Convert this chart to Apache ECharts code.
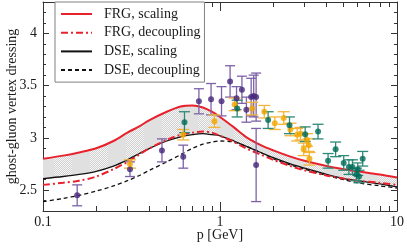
<!DOCTYPE html>
<html><head><meta charset="utf-8">
<script src="https://cdn.jsdelivr.net/npm/echarts@6/dist/echarts.min.js"></script>
<style>html,body{margin:0;padding:0;background:#fff}#c{width:407px;height:248px}</style>
</head><body><div id="c"></div>
<script>
// momentum grid (GeV) shared by all curves
const P = [0.1,0.13,0.16,0.2,0.25,0.3,0.35,0.4,0.5,0.6,0.7,0.8,0.9,1.0,1.2,1.4,1.7,2.0,2.5,3.0,4.0,5.0,6.0,8.0,10];
const FRG_SCALING    = [2.80,2.83,2.86,2.90,2.97,3.05,3.11,3.17,3.25,3.30,3.31,3.29,3.25,3.20,3.10,3.01,2.93,2.88,2.82,2.78,2.73,2.70,2.68,2.65,2.62];
const FRG_DECOUPLING = [2.55,2.57,2.59,2.63,2.70,2.77,2.84,2.90,2.98,3.03,3.05,3.06,3.05,3.02,2.96,2.90,2.84,2.79,2.73,2.69,2.64,2.61,2.59,2.57,2.55];
const DSE_SCALING    = [2.61,2.63,2.65,2.68,2.73,2.79,2.85,2.90,2.97,3.01,3.03,3.04,3.03,3.02,2.97,2.92,2.86,2.81,2.75,2.71,2.65,2.61,2.59,2.56,2.53];
const DSE_DECOUPLING = [2.39,2.42,2.45,2.49,2.54,2.59,2.64,2.69,2.77,2.84,2.90,2.94,2.96,2.97,2.96,2.92,2.86,2.80,2.74,2.70,2.64,2.60,2.57,2.54,2.52];

// lattice data sets: [p, value, error]
const DATA_PURPLE = [[0.156,2.45,0.10],[0.31,2.70,0.07],[0.47,2.88,0.11],[0.62,2.82,0.11],[0.76,3.35,0.12],[0.89,3.37,0.15],[1.02,3.35,0.14],[1.14,3.54,0.15],[1.24,3.38,0.11],[1.33,3.46,0.13],[1.41,3.27,0.12],[1.50,3.39,0.18],[1.55,3.40,0.20],[1.60,3.39,0.23],[1.60,2.74,0.35]];
const DATA_ORANGE = [[0.31,2.75,0.04],[0.62,3.03,0.05],[0.93,3.16,0.06],[1.21,3.32,0.06],[1.52,3.28,0.06],[1.78,3.25,0.06],[2.04,3.14,0.06],[2.29,3.19,0.06],[2.5,3.08,0.06],[2.73,3.03,0.06],[2.85,3.04,0.06],[2.97,2.89,0.06],[3.1,2.98,0.06],[3.17,2.93,0.06],[3.2,2.80,0.06]];
const DATA_TEAL   = [[0.63,3.15,0.10],[1.25,3.28,0.08],[1.87,3.17,0.08],[2.47,3.12,0.08],[3.03,3.035,0.07],[3.58,3.06,0.07],[4.08,2.78,0.07],[4.5,2.89,0.07],[5.0,2.76,0.07],[5.35,2.72,0.07],[5.6,2.72,0.07],[5.9,2.65,0.06],[6.0,2.70,0.06],[6.1,2.63,0.06],[6.4,2.80,0.07]];

const SERIES_NAMES = ['FRG, scaling','FRG, decoupling','DSE, scaling','DSE, decoupling'];
const X_MINOR = [0.2,0.3,0.4,0.5,0.6,0.7,0.8,0.9,2,3,4,5,6,7,8,9];
const Y_MAJOR = [2.5,3,3.5,4];
const Y_MINOR = [2.3,2.4,2.5,2.6,2.7,2.8,2.9,3.0,3.1,3.2,3.3,3.4,3.5,3.6,3.7,3.8,3.9,4.0,4.1,4.2,4.3];

const FONT = "'Liberation Serif','DejaVu Serif',serif";
const AX = '#333';

// hatch pattern
const pat = document.createElement('canvas');
pat.width = 36; pat.height = 4;
(function(){
  const g = pat.getContext('2d');
  g.fillStyle = '#e0e0e0'; g.fillRect(0,0,18,4);
  for (let i = 18; i < 36; i++) for (let j = 0; j < 4; j++) {
    g.fillStyle = ((i + j) % 2) ? '#d0d0d0' : '#f7f7f7';
    g.fillRect(i, j, 1, 1);
  }
})();

function pairs(ys){ return P.map((p,i)=>[p, ys[i]]); }

function errorBars(data, barColor, pointColor, capW){
  return [{
    type:'custom', xAxisIndex:0, yAxisIndex:0, z:5, silent:true,
    data: data.map(d=>[d[0], d[1]-d[2], d[1]+d[2]]),
    encode:{x:0, y:[1,2]},
    renderItem(params, api){
      const x = api.value(0);
      const lo = api.coord([x, api.value(1)]);
      const hi = api.coord([x, api.value(2)]);
      const h = capW/2;
      const st = {stroke: barColor, lineWidth: 1.3};
      return {type:'group', children:[
        {type:'line', shape:{x1:lo[0],y1:lo[1],x2:hi[0],y2:hi[1]}, style:st},
        {type:'line', shape:{x1:lo[0]-h,y1:lo[1],x2:lo[0]+h,y2:lo[1]}, style:st},
        {type:'line', shape:{x1:hi[0]-h,y1:hi[1],x2:hi[0]+h,y2:hi[1]}, style:st}
      ]};
    }
  },{
    type:'scatter', xAxisIndex:0, yAxisIndex:0, z:6, symbolSize:6, silent:true,
    itemStyle:{color: pointColor}, data: data.map(d=>[d[0], d[1]])
  }];
}

const xBase = {min:0.1, max:10, splitLine:{show:false}};
const yBase = {type:'value', min:2.3, max:4.3, splitLine:{show:false}};

const chart = echarts.init(document.getElementById('c'), null, {renderer:'canvas'});
chart.setOption({
  animation:false,
  grid:{left:43, right:10, top:2, bottom:37, outerBoundsMode:'none', containLabel:false},
  legend:{
    data: SERIES_NAMES, orient:'vertical', left:55, top:2,
    itemWidth:31, itemHeight:14, itemGap:4.7, padding:[5,4,5,5],
    backgroundColor:'#fff', borderColor:'#808080', borderWidth:1,
    itemStyle:{opacity:0},
    textStyle:{fontFamily:FONT, fontSize:14, color:'#1a1a1a', padding:[0,0,0,7]}
  },
  xAxis:[
    Object.assign({type:'log', logBase:10, position:'bottom',
      name:'p [GeV]', nameLocation:'middle', nameGap:17, nameMoveOverlap:false,
      nameTextStyle:{fontFamily:FONT, fontSize:14, color:'#1a1a1a'},
      axisLine:{onZero:false, lineStyle:{color:AX}},
      axisTick:{inside:true, length:9, lineStyle:{color:AX}},
      axisLabel:{fontFamily:FONT, fontSize:14, color:'#1a1a1a', margin:4,
        formatter:v=>String(+(+v).toPrecision(3))}}, xBase),
    Object.assign({type:'log', logBase:10, position:'top',
      axisLine:{onZero:false, lineStyle:{color:AX}},
      axisTick:{inside:true, length:9, lineStyle:{color:AX}},
      axisLabel:{show:false}}, xBase),
    {type:'value', min:-1, max:1, position:'bottom', splitLine:{show:false},
      axisLine:{show:false, onZero:false}, axisLabel:{show:false},
      axisTick:{inside:true, length:5, lineStyle:{color:AX}, customValues:X_MINOR.map(v=>Math.log10(v))}},
    {type:'value', min:-1, max:1, position:'top', splitLine:{show:false},
      axisLine:{show:false, onZero:false}, axisLabel:{show:false},
      axisTick:{inside:true, length:5, lineStyle:{color:AX}, customValues:X_MINOR.map(v=>Math.log10(v))}}
  ],
  yAxis:[
    Object.assign({position:'left',
      name:'ghost-gluon vertex dressing', nameLocation:'middle', nameGap:24, nameMoveOverlap:false,
      nameTextStyle:{fontFamily:FONT, fontSize:14, color:'#1a1a1a'},
      axisLine:{show:true, onZero:false, lineStyle:{color:AX}},
      axisTick:{show:true, inside:true, length:6, lineStyle:{color:AX}, customValues:Y_MAJOR},
      axisLabel:{fontFamily:FONT, fontSize:14, color:'#1a1a1a', margin:6, customValues:Y_MAJOR,
        formatter:v=>String(v)}}, yBase),
    Object.assign({position:'left', axisLine:{show:false, onZero:false}, axisLabel:{show:false},
      axisTick:{show:true, inside:true, length:3, lineStyle:{color:AX}, customValues:Y_MINOR}}, yBase),
    Object.assign({position:'right', axisLine:{show:true, onZero:false, lineStyle:{color:AX}}, axisLabel:{show:false},
      axisTick:{show:true, inside:true, length:6, lineStyle:{color:AX}, customValues:Y_MAJOR}}, yBase),
    Object.assign({position:'right', axisLine:{show:false, onZero:false}, axisLabel:{show:false},
      axisTick:{show:true, inside:true, length:3, lineStyle:{color:AX}, customValues:Y_MINOR}}, yBase)
  ],
  series:[
    {
      type:'custom', name:'band', xAxisIndex:0, yAxisIndex:0, z:1, silent:true,
      data: P.map((p,i)=>[p, FRG_SCALING[i], DSE_SCALING[i]]),
      encode:{x:0, y:[1,2]},
      renderItem(params, api){
        if (params.dataIndex !== 0) return null;
        const top = P.map((p,i)=>api.coord([p, FRG_SCALING[i]]));
        const bot = P.map((p,i)=>api.coord([p, DSE_SCALING[i]])).reverse();
        return {type:'polygon', shape:{points: top.concat(bot)},
          style:{fill:{image:pat, repeat:'repeat'}, stroke:null}};
      }
    },
    {name:SERIES_NAMES[3], type:'line', xAxisIndex:0, yAxisIndex:0, z:3, symbol:'none', smooth:0.3,
      data:pairs(DSE_DECOUPLING), lineStyle:{color:'#111', width:1.3, type:[4,3]}, itemStyle:{color:'#111'}},
    {name:SERIES_NAMES[2], type:'line', xAxisIndex:0, yAxisIndex:0, z:3, symbol:'none', smooth:0.3,
      data:pairs(DSE_SCALING), lineStyle:{color:'#111', width:1.3}, itemStyle:{color:'#111'}},
    {name:SERIES_NAMES[1], type:'line', xAxisIndex:0, yAxisIndex:0, z:3, symbol:'none', smooth:0.3,
      data:pairs(FRG_DECOUPLING), lineStyle:{color:'#e8212b', width:2, type:[7,3,2,3]}, itemStyle:{color:'#e8212b'}},
    {name:SERIES_NAMES[0], type:'line', xAxisIndex:0, yAxisIndex:0, z:3, symbol:'none', smooth:0.3,
      data:pairs(FRG_SCALING), lineStyle:{color:'#e8212b', width:2}, itemStyle:{color:'#e8212b'}},
    ...errorBars(DATA_PURPLE, '#7d62a8', '#46277a', 10),
    ...errorBars(DATA_ORANGE, '#f3b53a', '#f2a600', 12),
    ...errorBars(DATA_TEAL, '#2e8a78', '#006b57', 11)
  ]
});
</script>
</body></html>
